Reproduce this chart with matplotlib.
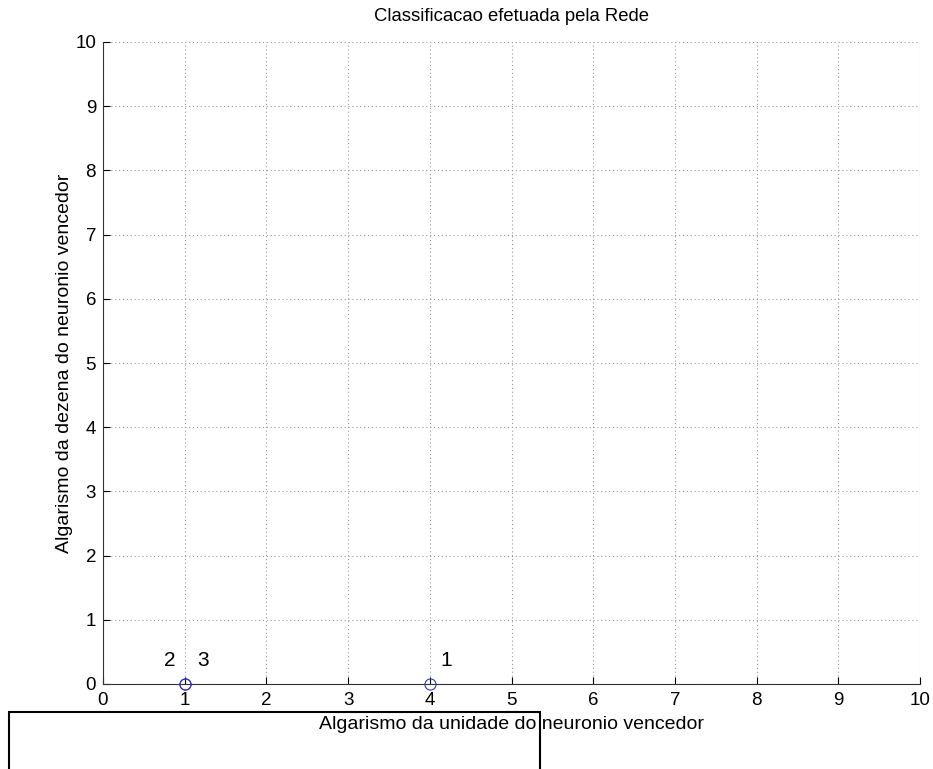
import matplotlib.pyplot as plt
from matplotlib.patches import Rectangle

# ====== Data ======
point_x = [4, 1, 1]
point_y = [0, 0, 0]
point_labels = ["1", "2", "3"]
label_x = [4.2, 0.82, 1.22]
label_y = [0.37, 0.37, 0.37]

x_ticks = list(range(0, 11))
y_ticks = list(range(0, 11))

plt.rcParams["font.family"] = ["Liberation Sans", "DejaVu Sans"]

fig = plt.figure(figsize=(9.33, 7.69), dpi=100)
ax = fig.add_axes([103 / 933, 1 - 684 / 769, (920 - 103) / 933, (684 - 42) / 769])

ax.plot(point_x, point_y, "o", mfc="none", mec="#3333cc", ms=8, mew=0.8, clip_on=False, zorder=5)
for tx, ty, t in zip(label_x, label_y, point_labels):
    ax.text(tx, ty, t, fontsize=15, ha="center", va="center")

ax.set_xlim(0, 10)
ax.set_ylim(0, 10)
ax.set_xticks(x_ticks)
ax.set_yticks(y_ticks)
ax.tick_params(direction="in", length=5, labelsize=13.5, width=0.8)
ax.tick_params(axis="x", pad=6)
ax.tick_params(axis="y", pad=5)
ax.grid(True, linestyle=(0, (1, 2.5)), color="#999999", linewidth=0.8)
ax.spines["top"].set_visible(False)
ax.spines["right"].set_visible(False)
for s in ("left", "bottom"):
    ax.spines[s].set_color("#333333")

ax.set_title("Classificacao efetuada pela Rede", fontsize=13.3, pad=15)
ax.set_xlabel("Algarismo da unidade do neuronio vencedor", fontsize=14, labelpad=5)
ax.set_ylabel("Algarismo da dezena do neuronio vencedor", fontsize=14, labelpad=1.5)

# black frame drawn over the lower-left part of the figure
fig.patches.append(Rectangle((9 / 933, -0.05), (540 - 9) / 933, 0.05 + 1 - 712 / 769,
                             transform=fig.transFigure, fill=False, edgecolor="black",
                             linewidth=1.5, zorder=10))

fig.savefig("out.png", dpi=100)
